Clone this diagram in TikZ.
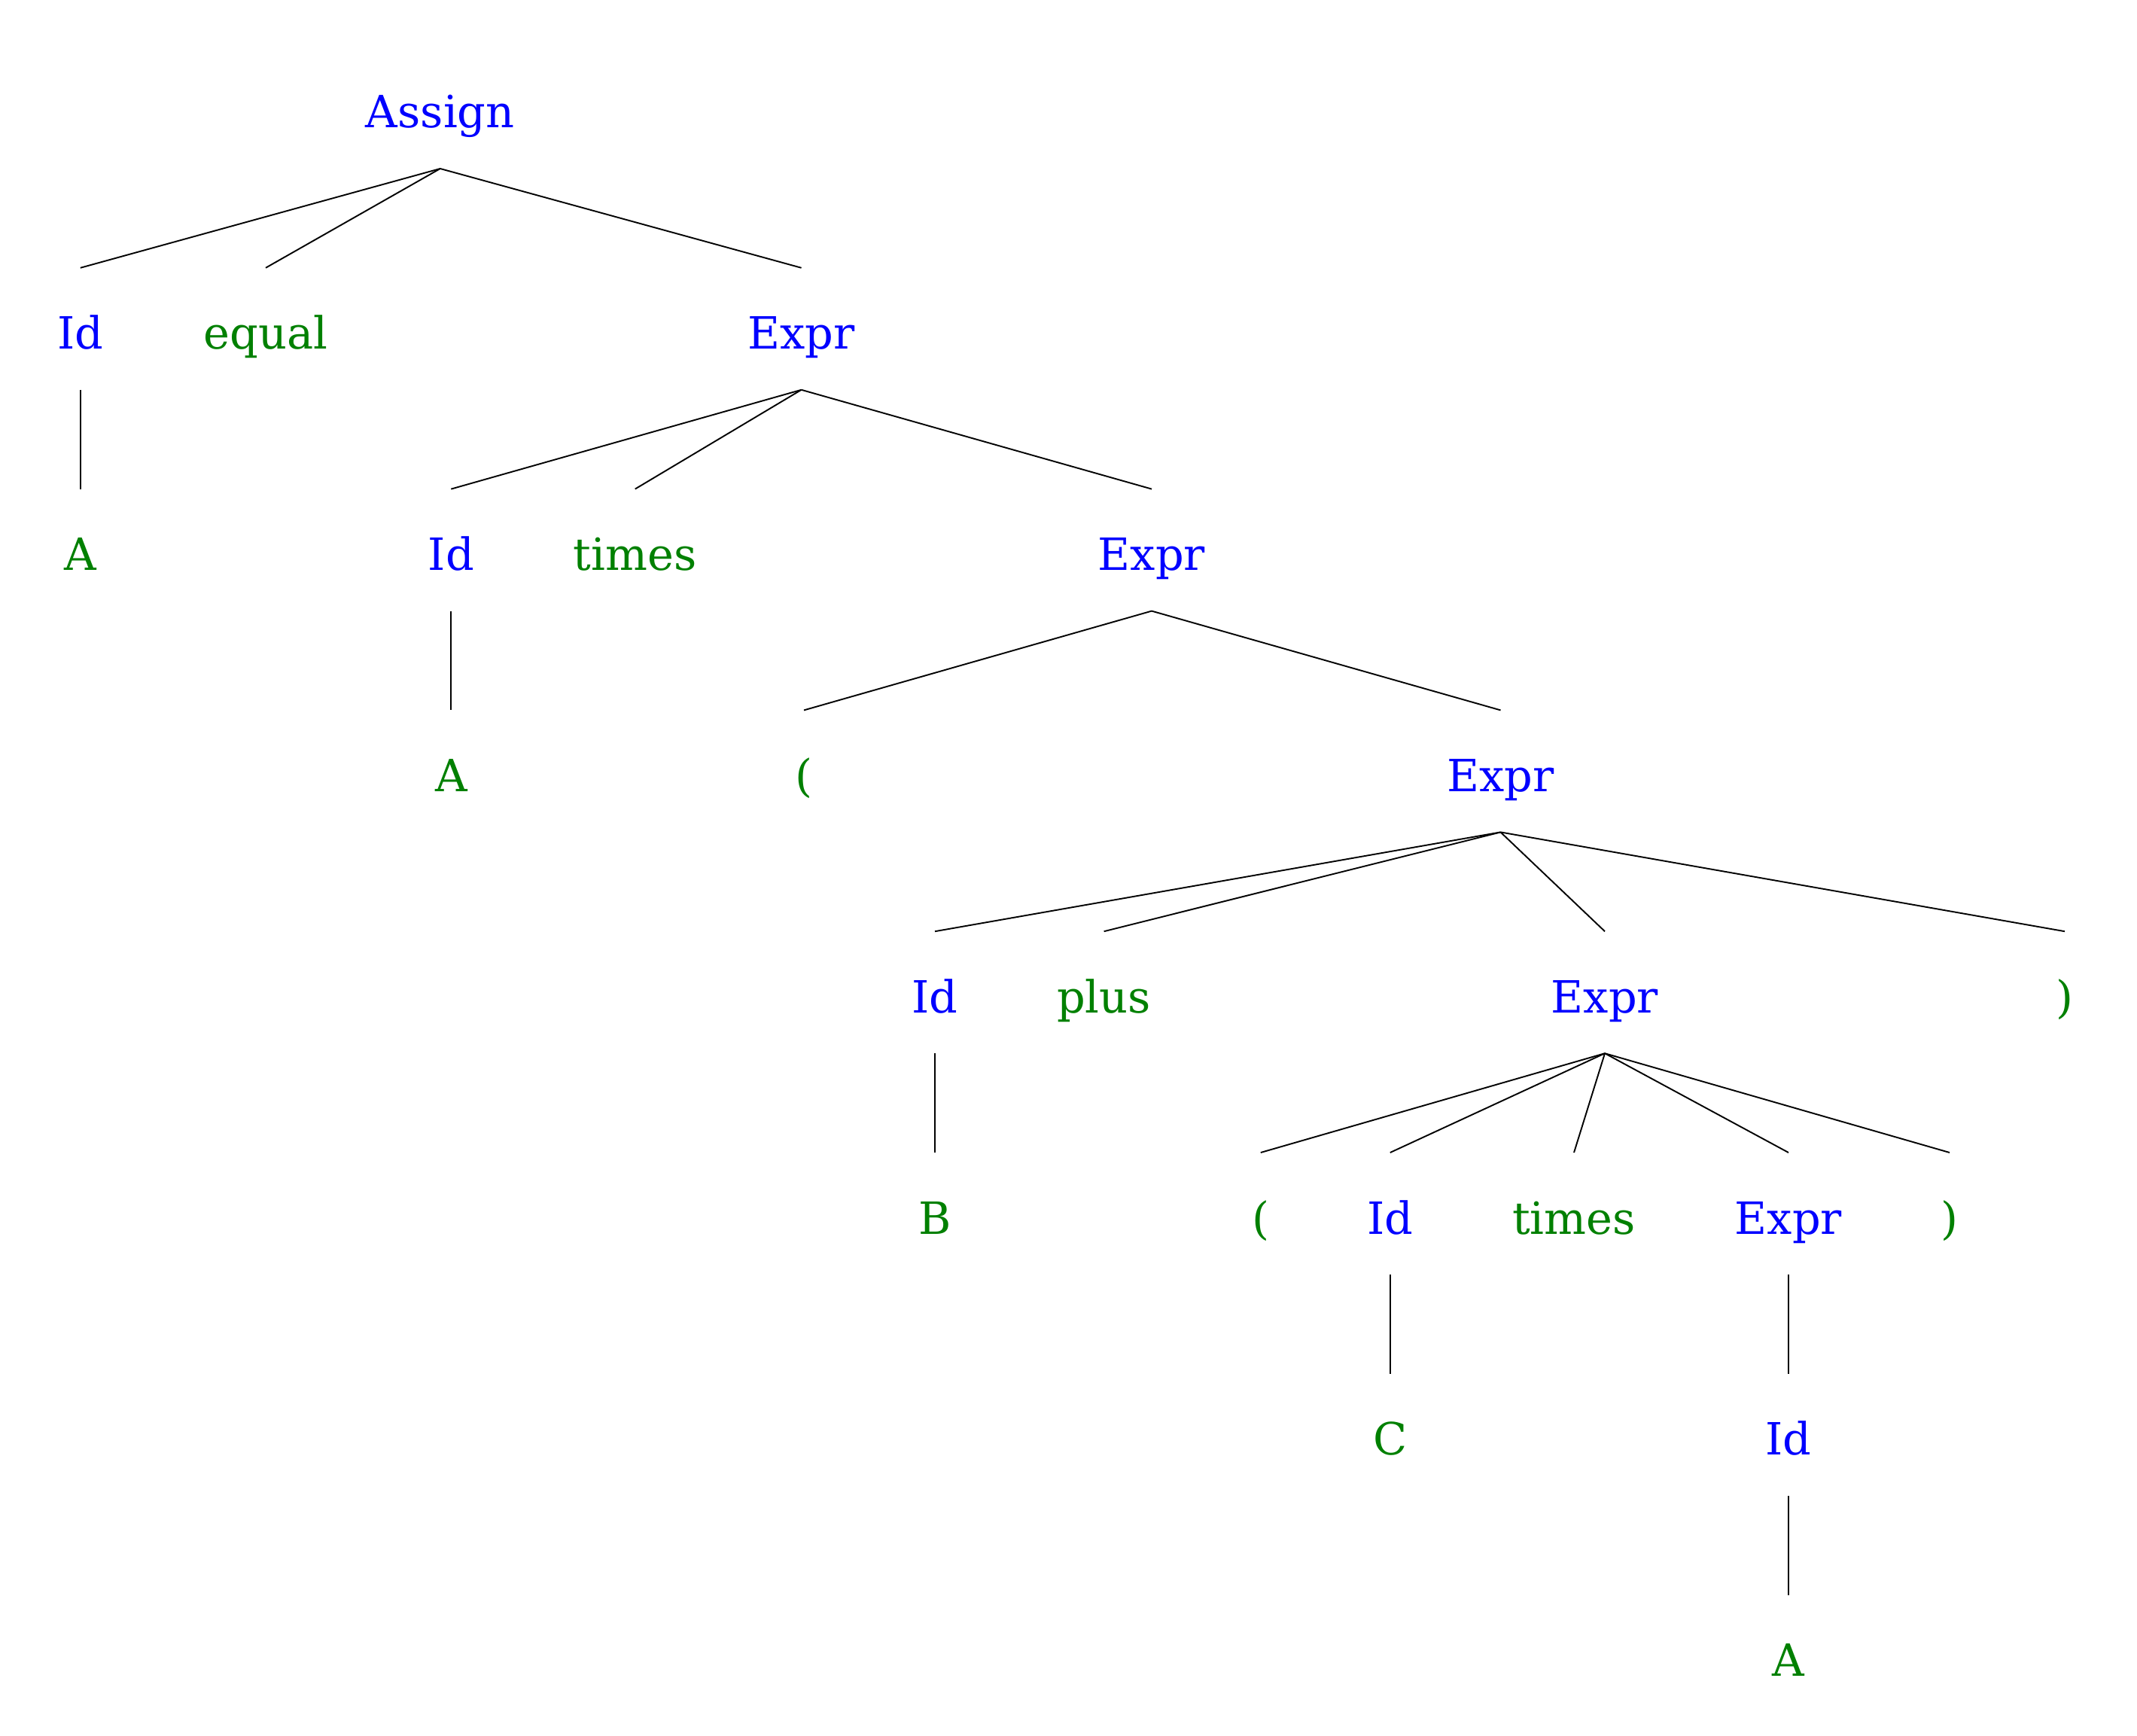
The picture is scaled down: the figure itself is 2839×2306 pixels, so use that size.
\documentclass[tikz,border=0pt]{standalone}
\usepackage{fontspec}
\setmainfont{DejaVu Serif}
\definecolor{ntblue}{RGB}{0,0,255}
\definecolor{tgreen}{RGB}{0,128,0}
\tikzset{
  lbl/.style={anchor=base, inner sep=0pt, font=\fontsize{59}{68}\selectfont},
  nt/.style={lbl, text=ntblue},
  tm/.style={lbl, text=tgreen},
  edge/.style={draw=black, line width=1.9pt}
}
\newcommand{\tedge}[2]{\draw[edge] ([yshift=-54pt]#1.base) -- ([yshift=108pt]#2.base);}
\begin{document}
\begin{tikzpicture}[x=1pt,y=-1pt]
\useasboundingbox (0,0) rectangle (2839,2306);
% level 0
\node[nt] (assign) at (584.8,170) {Assign};
% level 1
\node[nt] (id1) at (106.8,463.8) {Id};
\node[tm] (eq) at (353,463.8) {equal};
\node[nt] (e1) at (1064.6,463.8) {Expr};
% level 2
\node[tm] (a1) at (106.8,757.6) {A};
\node[nt] (id2) at (599.3,757.6) {Id};
\node[tm] (t1) at (843.7,757.6) {times};
\node[nt] (e2) at (1530,757.6) {Expr};
% level 3
\node[tm] (a2) at (599.3,1051.4) {A};
\node[tm] (lp1) at (1068,1051.4) {(};
\node[nt] (e3) at (1993.5,1051.4) {Expr};
% level 4
\node[nt] (id3) at (1242,1345.2) {Id};
\node[tm] (plus) at (1466.6,1345.2) {plus};
\node[nt] (e4) at (2132,1345.2) {Expr};
\node[tm] (rp1) at (2743,1345.2) {)};
% level 5
\node[tm] (b) at (1242,1639) {B};
\node[tm] (lp2) at (1674.8,1639) {(};
\node[nt] (id4) at (1846.8,1639) {Id};
\node[tm] (t2) at (2091,1639) {times};
\node[nt] (e5) at (2376,1639) {Expr};
\node[tm] (rp2) at (2590,1639) {)};
% level 6
\node[tm] (c) at (1846.8,1932.8) {C};
\node[nt] (id5) at (2376,1932.8) {Id};
% level 7
\node[tm] (a3) at (2376,2226.6) {A};
% edges
\tedge{assign}{id1}
\tedge{assign}{eq}
\tedge{assign}{e1}
\tedge{id1}{a1}
\tedge{e1}{id2}
\tedge{e1}{t1}
\tedge{e1}{e2}
\tedge{id2}{a2}
\tedge{e2}{lp1}
\tedge{e2}{e3}
\tedge{e3}{id3}
\tedge{e3}{plus}
\tedge{e3}{e4}
\tedge{e3}{rp1}
\tedge{id3}{b}
\tedge{e4}{lp2}
\tedge{e4}{id4}
\tedge{e4}{t2}
\tedge{e4}{e5}
\tedge{e4}{rp2}
\tedge{id4}{c}
\tedge{e5}{id5}
\tedge{id5}{a3}
\end{tikzpicture}
\end{document}
